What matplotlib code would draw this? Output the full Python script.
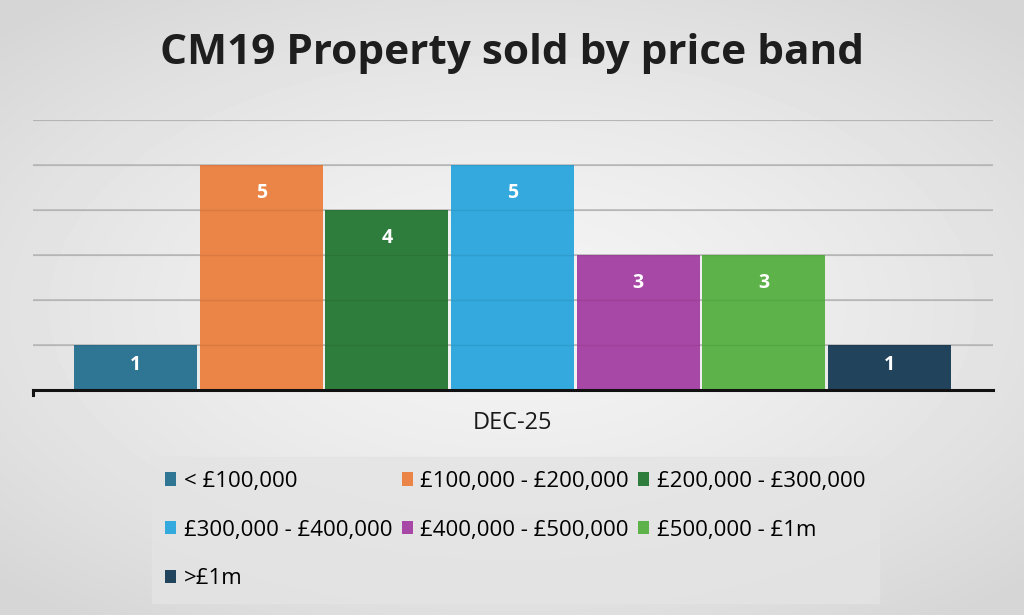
import numpy as np
from matplotlib import pyplot as plt
from matplotlib.patches import Patch

bands = ['< £100,000', '£100,000 - £200,000', '£200,000 - £300,000',
         '£300,000 - £400,000', '£400,000 - £500,000', '£500,000 - £1m', '>£1m']
counts = [1, 5, 4, 5, 3, 3, 1]
colours = ['#2f7594', '#ea8447', '#2f7d3d', '#33a9dd', '#a848a6', '#5db349', '#21435b']
category = 'DEC-25'

plt.rcParams['font.family'] = ['Open Sans', 'DejaVu Sans']

fig = plt.figure(figsize=(10.24, 6.15), dpi=100)

# soft radial background, lighter in the middle
bg = fig.add_axes([0, 0, 1, 1], zorder=-10)
gx, gy = np.meshgrid(np.linspace(-1, 1, 300), np.linspace(-1, 1, 200))
r = np.clip(np.sqrt(gx ** 2 + (gy * 1.1) ** 2), 0, 1.4)
bg.imshow(0.955 - 0.07 * r ** 1.5, cmap='gray', vmin=0, vmax=1,
          aspect='auto', extent=[0, 1, 0, 1], interpolation='bilinear')
bg.axis('off')

ax = fig.add_axes([0.032, 0.366, 0.938, 0.439])
ax.patch.set_alpha(0)

x = np.arange(len(counts))
bars = ax.bar(x, counts, width=0.98, color=colours, zorder=2)
for b, v in zip(bars, counts):
    # label sits just inside the top; short bars get it centred
    ax.text(b.get_x() + b.get_width() / 2, max(v - 0.63, v / 2 + 0.05), str(v),
            ha='center', va='center', color='white', fontsize=14,
            fontweight='bold', zorder=4)

ax.set_ylim(0, 6)
ax.set_xlim(-0.817, 6.825)
for yv in range(1, 7):
    ax.axhline(yv, color='#bdbdbd', lw=1.2, zorder=1)
    ax.axhline(yv, color='black', lw=1, alpha=0.07, zorder=3)
ax.set_yticks([])
ax.set_xticks([3])
ax.set_xticklabels([category], fontsize=17, color='#1a1a1a')
ax.tick_params(axis='x', length=0, pad=15)
for s in ['top', 'right', 'left']:
    ax.spines[s].set_visible(False)
ax.spines['bottom'].set_linewidth(2.2)
ax.spines['bottom'].set_color('#111111')
ax.plot([-0.817, -0.817], [0, -0.12], color='#111111', lw=2.2, clip_on=False)

fig.text(0.5, 0.913, 'CM19 Property sold by price band', ha='center', va='center',
         fontsize=30.5, fontweight='bold', color='#1e1e1e')

handles = [Patch(facecolor=c, label=l) for c, l in zip(colours, bands)]
order = [0, 3, 6, 1, 4, 2, 5]
leg = fig.legend([handles[i] for i in order], [bands[i] for i in order],
                 ncol=3, loc='upper left', bbox_to_anchor=(0.148, 0.257),
                 borderaxespad=0, frameon=True, fontsize=16,
                 handlelength=0.5, handleheight=0.55, handletextpad=0.35,
                 columnspacing=0.4, labelspacing=1.25, borderpad=0.62,
                 fancybox=False)
leg.get_frame().set_facecolor('#e4e4e4')
leg.get_frame().set_edgecolor('#e4e4e4')

fig.savefig('out.png', dpi=100)
